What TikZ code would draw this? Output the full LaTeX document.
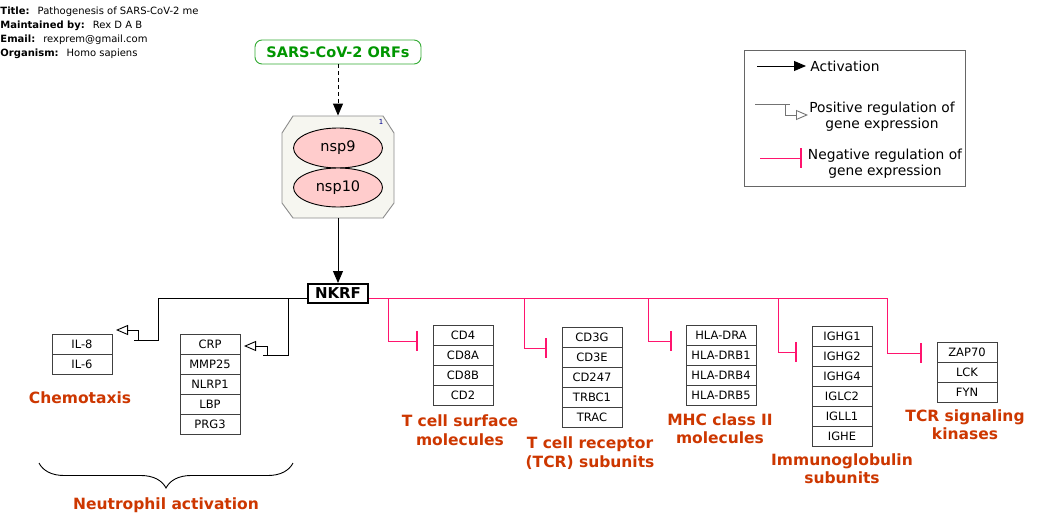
\documentclass[tikz,border=0pt]{standalone}
\usepackage{fontspec}
\setmainfont{DejaVu Sans}
\usetikzlibrary{arrows.meta,shapes.geometric,decorations.pathreplacing}
\definecolor{labelred}{RGB}{205,55,0}
\definecolor{negpink}{RGB}{255,20,110}
\definecolor{orfgreen}{RGB}{0,150,0}
\definecolor{cplxfill}{RGB}{246,246,240}
\definecolor{protfill}{RGB}{255,204,204}
\tikzset{
  gene/.style={draw=black!75, minimum height=20pt, inner sep=0pt, font=\fontsize{11.5}{13}\selectfont},
  grouplabel/.style={text=labelred, font=\bfseries\fontsize{15.5}{18.5}\selectfont, align=center, inner sep=0pt, anchor=base},
  legendtext/.style={inner sep=0pt, align=center, font=\fontsize{13.8}{16}\selectfont},
  info/.style={anchor=base west, inner sep=0pt, font=\fontsize{10}{12}\selectfont},
  act/.style={-{Triangle[length=12pt,width=10pt]}},
  posreg/.style={-{Triangle[open,length=12pt,width=10pt]}},
  negreg/.style={negpink, -{Bar[width=20pt,line width=2pt]}}
}
\begin{document}
\begin{tikzpicture}[x=1pt,y=-1pt,line width=0.9pt]
  \fill[white] (0,0) rectangle (1051,530);
  \useasboundingbox (0,0) rectangle (1051,530);
  % pathway info
  \node[info] (title) at (0,14) {\textbf{Title:}\hspace{8pt}Pathogenesis of SARS-CoV-2 me};
  \node[info] (maint) at (0,28) {\textbf{Maintained by:}\hspace{8pt}Rex D A B};
  \node[info] (email) at (0,42) {\textbf{Email:}\hspace{8pt}rexprem@gmail.com};
  \node[info] (org) at (0,56) {\textbf{Organism:}\hspace{8pt}Homo sapiens};

  % virus, complex and NKRF
  \node[draw=orfgreen!80, rounded corners=7pt, minimum width=166pt, minimum height=24pt, text=orfgreen, font=\bfseries\fontsize{14.5}{16}\selectfont] (orfs) at (338,52) {SARS-CoV-2 ORFs};
  \filldraw[fill=cplxfill, draw=black!45] (282,133) -- (293,116) -- (383,116) -- (394,133) -- (394,203) -- (383,218) -- (293,218) -- (282,203) -- cycle;
  \node[minimum width=112pt, minimum height=102pt, inner sep=0pt] (cplx) at (338,167) {};
  \node[ellipse, draw, fill=protfill, minimum width=89pt, minimum height=40pt, font=\fontsize{14.5}{16}\selectfont] (nsp9) at (338,148) {nsp9};
  \node[ellipse, draw, fill=protfill, minimum width=89pt, minimum height=39pt, font=\fontsize{14.5}{16}\selectfont] (nsp10) at (338,187.5) {nsp10};
  \node[text=blue!55!black, inner sep=0pt, font=\fontsize{7}{8}\selectfont] (cnt) at (381,122) {1};
  \node[draw, line width=2pt, minimum width=60pt, minimum height=19pt, inner sep=0pt, font=\bfseries\fontsize{15}{16}\selectfont] (nkrf) at (338,293.5) {NKRF};
  \draw[act, dash pattern=on 4pt off 3pt] (orfs) -- (cplx);
  \draw[act] (cplx) -- (nkrf);

  % gene boxes
  \foreach \grp/\cx/\ty/\bw/\genes in {
      chemo/82/334/60/{IL-8,IL-6},
      neut/210/334/60/{CRP,MMP25,NLRP1,LBP,PRG3},
      tsurf/463/325/60/{CD4,CD8A,CD8B,CD2},
      tcr/592/327/60/{CD3G,CD3E,CD247,TRBC1,TRAC},
      mhc/721/325/70/{HLA-DRA,HLA-DRB1,HLA-DRB4,HLA-DRB5},
      ig/842/326/60/{IGHG1,IGHG2,IGHG4,IGLC2,IGLL1,IGHE},
      kin/967/342/60/{ZAP70,LCK,FYN}}
    \foreach \gn [count=\i from 0] in \genes
      \node[gene, minimum width=\bw] (\grp\i) at (\cx,\ty+10+20*\i) {\gn};

  % group labels (base = last line)
  \node[grouplabel] (chemoLbl) at (80,403) {Chemotaxis};
  \node[grouplabel] (neutLbl) at (166,509) {Neutrophil activation};
  \node[grouplabel] (tsurfLbl) at (460,445) {T cell surface\\molecules};
  \node[grouplabel] (tcrLbl) at (590,467) {T cell receptor\\(TCR) subunits};
  \node[grouplabel] (mhcLbl) at (720,443.5) {MHC class II\\molecules};
  \node[grouplabel] (igLbl) at (842,483.5) {Immunoglobulin\\subunits};
  \node[grouplabel] (kinLbl) at (965,439.5) {TCR signaling\\kinases};
  \draw[decorate, decoration={brace,mirror,amplitude=25pt}] (39,463) -- (293,463);

  % positive regulation
  \coordinate (nkL) at (nkrf.west |- 0,298);
  \coordinate (nkR) at (nkrf.east |- 0,298);
  \coordinate (toChemo) at (116,330);
  \coordinate (toNeut) at (244,346);
  \draw[posreg] (nkL) -| (158,340) -- (134,340) (138,340) |- (toChemo);
  \draw[posreg] (nkL) -| (288,355) -- (263,355) (267,355) |- (toNeut);

  % negative regulation
  \coordinate (t1) at (418,341);
  \coordinate (t2) at (547,348);
  \coordinate (t3) at (672,341);
  \coordinate (t4) at (797,352);
  \coordinate (t5) at (922,353);
  \draw[negreg] (nkR) -| ([xshift=-30]t1) -- (t1);
  \draw[negreg] (nkR) -| ([xshift=-23]t2) -- (t2);
  \draw[negreg] (nkR) -| ([xshift=-24]t3) -- (t3);
  \draw[negreg] (nkR) -| ([xshift=-19]t4) -- (t4);
  \draw[negreg] (nkR) -| ([xshift=-35]t5) -- (t5);

  % legend
  \node[draw=black!60, minimum width=221pt, minimum height=136pt, inner sep=0pt] (legend) at (854.5,118) {};
  \node[legendtext, anchor=west] (lgAct) at (810,66) {Activation};
  \draw[act] ([xshift=-53]lgAct.west) -- ([xshift=-4]lgAct.west);
  \node[legendtext] (lgPos) at (882,117) {Positive regulation of\\gene expression};
  \coordinate (pA) at (755,104);
  \coordinate (pB) at (808,115);
  \draw[black!55, posreg] (pA) -- (790,104) (785,104) |- (pB);
  \node[legendtext] (lgNeg) at (885,164) {Negative regulation of\\gene expression};
  \coordinate (nA) at (760,158);
  \coordinate (nB) at (802,158);
  \draw[negreg] (nA) -- (nB);
\end{tikzpicture}
\end{document}
